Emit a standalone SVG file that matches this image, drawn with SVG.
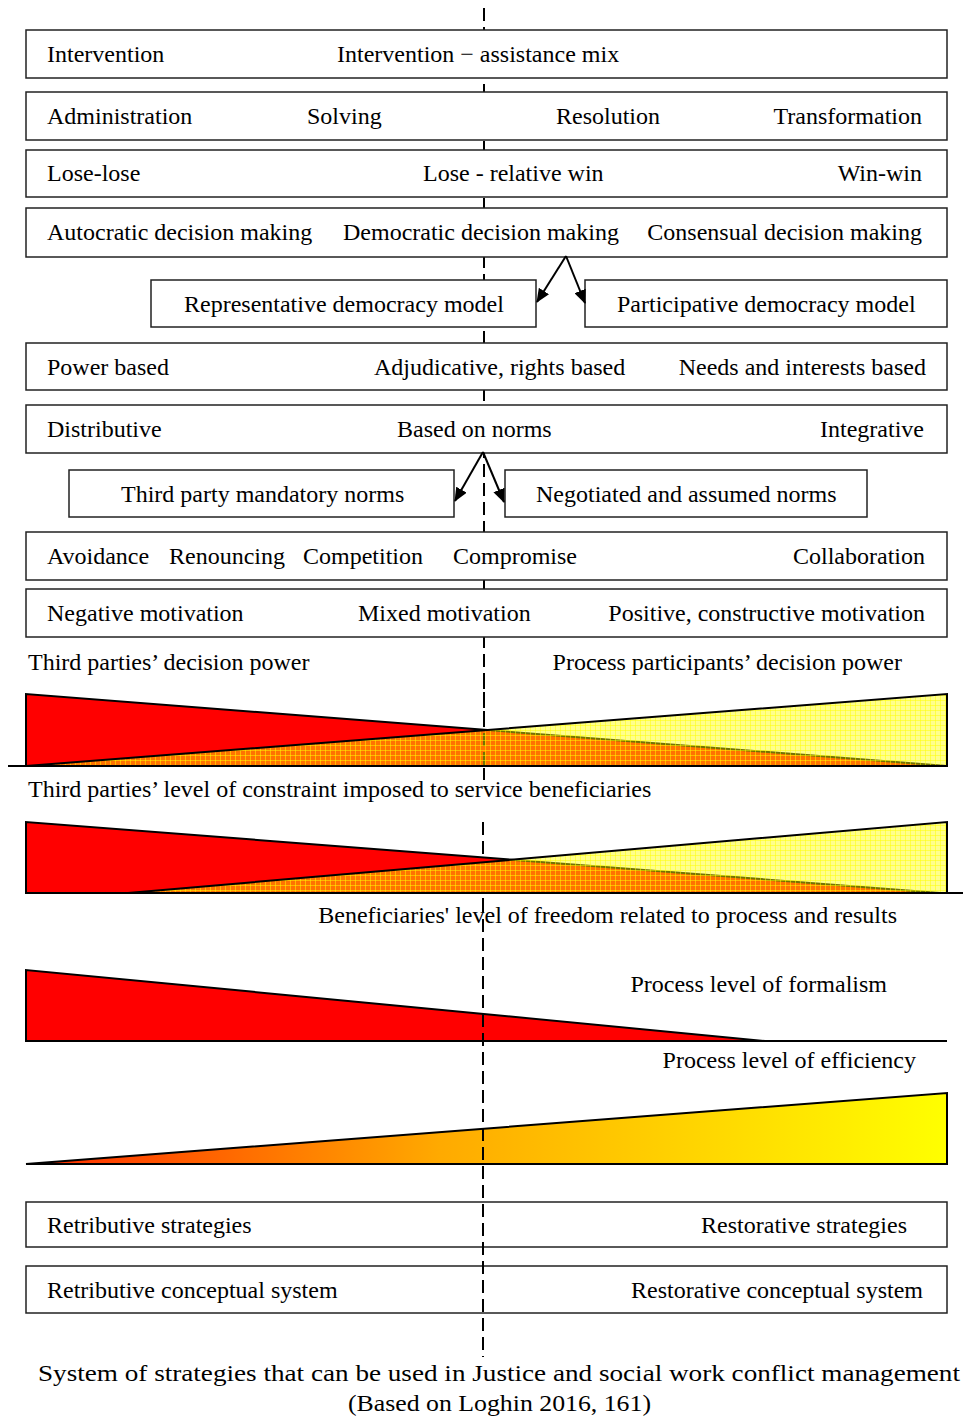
<svg xmlns="http://www.w3.org/2000/svg" width="963" height="1418" viewBox="0 0 963 1418">
<style>
.bx{fill:#fff;stroke:#222;stroke-width:1.5}
.bo{fill:none;stroke:#222;stroke-width:1.5}
text{font-family:"Liberation Serif","Times New Roman",serif;font-size:24px;fill:#000}
.e{text-anchor:end}
.m{text-anchor:middle}
.dash{stroke:#000;stroke-width:2;stroke-dasharray:13 6;fill:none}
.tri{stroke:#000;stroke-width:2;stroke-linejoin:miter}
.ln{stroke:#000;stroke-width:2}
.ar{stroke:#000;stroke-width:2;fill:none}
</style>
<defs>
<marker id="ah" viewBox="0 0 14 12" refX="13" refY="6" markerWidth="14" markerHeight="12" markerUnits="userSpaceOnUse" orient="auto">
<path d="M0,0 L14,6 L0,12 z" fill="#000"/>
</marker>
<linearGradient id="g1" x1="26" y1="0" x2="947" y2="0" gradientUnits="userSpaceOnUse">
<stop offset="0" stop-color="#ff2a00"/>
<stop offset="0.45" stop-color="#ffaa00"/>
<stop offset="1" stop-color="#ffff00"/>
</linearGradient>
<pattern id="grid" width="5" height="5" patternUnits="userSpaceOnUse">
<rect width="5" height="5" fill="#ffff00" fill-opacity="0.45"/>
<path d="M0,0.5 H5 M0.5,0 V5" stroke="#ffff00" stroke-width="1" stroke-opacity="0.5"/>
</pattern>
</defs>

<g id="axis-upper">
<line class="dash" x1="484" y1="8" x2="484" y2="780"/>
</g>

<g id="row-intervention">
<rect class="bx" x="26" y="30" width="921" height="48"/>
<text x="47" y="62">Intervention</text>
<text x="337" y="62">Intervention − assistance mix</text>
</g>
<g id="row-administration">
<rect class="bx" x="26" y="92" width="921" height="48"/>
<text x="47" y="124">Administration</text>
<text x="307" y="124">Solving</text>
<text x="556" y="124">Resolution</text>
<text class="e" x="922" y="124">Transformation</text>
</g>
<g id="row-lose">
<rect class="bx" x="26" y="150" width="921" height="47"/>
<text x="47" y="181">Lose-lose</text>
<text x="423" y="181">Lose - relative win</text>
<text class="e" x="922" y="181">Win-win</text>
</g>
<g id="row-decision">
<rect class="bx" x="26" y="208" width="921" height="49"/>
<text x="47" y="240">Autocratic decision making</text>
<text x="343" y="240">Democratic decision making</text>
<text class="e" x="922" y="240">Consensual decision making</text>
</g>
<g id="node-representative">
<rect class="bx" x="151" y="280" width="385" height="47"/>
<text x="184" y="312">Representative democracy model</text>
</g>
<g id="node-participative">
<rect class="bx" x="585" y="280" width="362" height="47"/>
<text x="617" y="312">Participative democracy model</text>
</g>
<g id="row-power">
<rect class="bx" x="26" y="343" width="921" height="47"/>
<text x="47" y="375">Power based</text>
<text x="374" y="375">Adjudicative, rights based</text>
<text class="e" x="926" y="375">Needs and interests based</text>
</g>
<g id="row-distributive">
<rect class="bx" x="26" y="405" width="921" height="48"/>
<text x="47" y="437">Distributive</text>
<text x="397" y="437">Based on norms</text>
<text class="e" x="924" y="437">Integrative</text>
</g>
<g id="node-thirdparty">
<rect class="bx" x="69" y="470" width="385" height="47"/>
<text x="121" y="502">Third party mandatory norms</text>
</g>
<g id="node-negotiated">
<rect class="bx" x="505" y="470" width="362" height="47"/>
<text x="536" y="502">Negotiated and assumed norms</text>
</g>
<g id="row-avoidance">
<rect class="bx" x="26" y="532" width="921" height="48"/>
<text x="47" y="564">Avoidance</text>
<text x="169" y="564">Renouncing</text>
<text x="303" y="564">Competition</text>
<text x="453" y="564">Compromise</text>
<text class="e" x="925" y="564">Collaboration</text>
</g>
<g id="row-motivation">
<rect class="bx" x="26" y="589" width="921" height="48"/>
<text x="47" y="621">Negative motivation</text>
<text x="358" y="621">Mixed motivation</text>
<text class="e" x="925" y="621">Positive, constructive motivation</text>
</g>

<g id="connectors">
<line class="ar" x1="566" y1="256" x2="537" y2="302" marker-end="url(#ah)"/>
<line class="ar" x1="566" y1="256" x2="585" y2="303" marker-end="url(#ah)"/>
<line class="ar" x1="483" y1="452" x2="455" y2="501" marker-end="url(#ah)"/>
<line class="ar" x1="483" y1="452" x2="504" y2="502" marker-end="url(#ah)"/>
</g>

<g id="label-decision-power">
<text x="28" y="670">Third parties’ decision power</text>
<text class="e" x="902" y="670">Process participants’ decision power</text>
</g>

<g id="triangles-decision-power">
<line class="ln" x1="8" y1="766" x2="947" y2="766"/>
<polygon class="tri" fill="#ff0000" points="26,694 26,766 947,766"/>
<line class="dash" x1="484" y1="680" x2="484" y2="780" style="stroke-dashoffset:4"/>
<polygon class="tri" fill="url(#grid)" points="26,766 947,694 947,766"/>
</g>

<g id="label-constraint">
<text x="28" y="797">Third parties’ level of constraint imposed to service beneficiaries</text>
</g>

<g id="axis-lower-a">
<line class="dash" x1="483" y1="822" x2="483" y2="900"/>
</g>

<g id="triangles-freedom">
<line class="ln" x1="26" y1="893" x2="963" y2="893"/>
<polygon class="tri" fill="#ff0000" points="26,822 26,893 940,893"/>
<polygon class="tri" fill="url(#grid)" points="128,893 947,822 947,893"/>
</g>

<g id="label-freedom">
<text class="e" x="897" y="923">Beneficiaries' level of freedom related to process and results</text>
</g>

<g id="label-formalism">
<text class="e" x="887" y="992">Process level of formalism</text>
</g>
<g id="triangle-formalism">
<line class="ln" x1="26" y1="1041" x2="947" y2="1041"/>
<polygon class="tri" fill="#ff0000" points="26,970 26,1041 765,1041"/>
</g>

<g id="label-efficiency">
<text class="e" x="916" y="1068">Process level of efficiency</text>
</g>
<g id="triangle-efficiency">
<polygon class="tri" fill="url(#g1)" points="26,1164 947,1093 947,1164"/>
</g>

<g id="row-retributive-strategies">
<rect class="bo" x="26" y="1202" width="921" height="45"/>
<text x="47" y="1233">Retributive strategies</text>
<text class="e" x="907" y="1233">Restorative strategies</text>
</g>
<g id="row-retributive-system">
<rect class="bo" x="26" y="1266" width="921" height="47"/>
<text x="47" y="1298">Retributive conceptual system</text>
<text class="e" x="923" y="1298">Restorative conceptual system</text>
</g>

<g id="axis-lower-b">
<line class="dash" x1="483" y1="900" x2="483" y2="1357"/>
</g>

<g id="caption">
<text x="38" y="1381" textLength="922" lengthAdjust="spacingAndGlyphs">System of strategies that can be used in Justice and social work conflict management</text>
<text x="348" y="1411" textLength="303" lengthAdjust="spacingAndGlyphs">(Based on Loghin 2016, 161)</text>
</g>
</svg>
